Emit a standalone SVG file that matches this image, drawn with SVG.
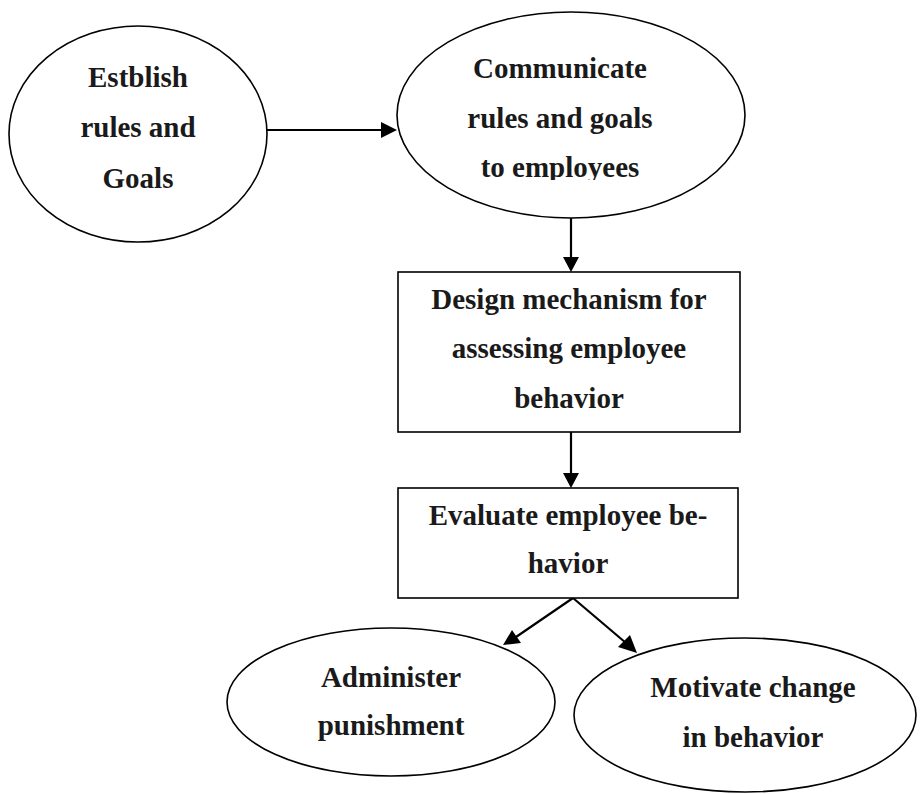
<svg xmlns="http://www.w3.org/2000/svg" width="920" height="794" viewBox="0 0 920 794">
<style>
.n{fill:#fff;stroke:#000;stroke-width:1.6}
.t{font-family:"Liberation Serif","Times New Roman",serif;font-weight:bold;font-size:29px;fill:#1a1a1a;text-anchor:middle}
</style>
<defs>
<clipPath id="cl2"><rect x="0" y="0" width="920" height="180"/></clipPath>
</defs>
<rect width="920" height="794" fill="#fff"/>
<g id="connectors">
<line x1="267" y1="130" x2="383" y2="130" stroke="#000" stroke-width="2.2"/>
<path d="M381,122 L397,130 L381,138 z"/>
<line x1="571" y1="218" x2="571" y2="258" stroke="#000" stroke-width="2.2"/>
<path d="M563,257 L571,272 L579,257 z"/>
<line x1="571" y1="432" x2="571" y2="474" stroke="#000" stroke-width="2.2"/>
<path d="M563,473 L571,488 L579,473 z"/>
<line x1="573" y1="598" x2="516" y2="637" stroke="#000" stroke-width="2.2"/>
<path d="M503,645 L512,630 L521,643 z"/>
<line x1="573" y1="598" x2="626" y2="643" stroke="#000" stroke-width="2.2"/>
<path d="M637,653 L618,647 L630,635 z"/>
</g>
<g id="n1">
<ellipse class="n" cx="138" cy="134" rx="129" ry="108"/>
<text class="t" x="138" y="87">Estblish</text>
<text class="t" x="138" y="137">rules and</text>
<text class="t" x="138" y="188">Goals</text>
</g>
<g id="n2">
<ellipse class="n" cx="571" cy="115" rx="174" ry="103"/>
<g clip-path="url(#cl2)">
<text class="t" x="560" y="78">Communicate</text>
<text class="t" x="560" y="128">rules and goals</text>
<text class="t" x="560" y="177">to employees</text>
</g>
</g>
<g id="n3">
<rect class="n" x="398" y="272" width="342" height="160"/>
<text class="t" x="569" y="309">Design mechanism for</text>
<text class="t" x="569" y="358">assessing employee</text>
<text class="t" x="569" y="408">behavior</text>
</g>
<g id="n4">
<rect class="n" x="398" y="488" width="340" height="110"/>
<text class="t" x="568" y="525">Evaluate employee be-</text>
<text class="t" x="568" y="573">havior</text>
</g>
<g id="n5">
<ellipse class="n" cx="391" cy="702" rx="164" ry="74"/>
<text class="t" x="391" y="687">Administer</text>
<text class="t" x="391" y="735">punishment</text>
</g>
<g id="n6">
<ellipse class="n" cx="745" cy="715" rx="171" ry="77"/>
<text class="t" x="753" y="697">Motivate change</text>
<text class="t" x="753" y="747">in behavior</text>
</g>
</svg>
